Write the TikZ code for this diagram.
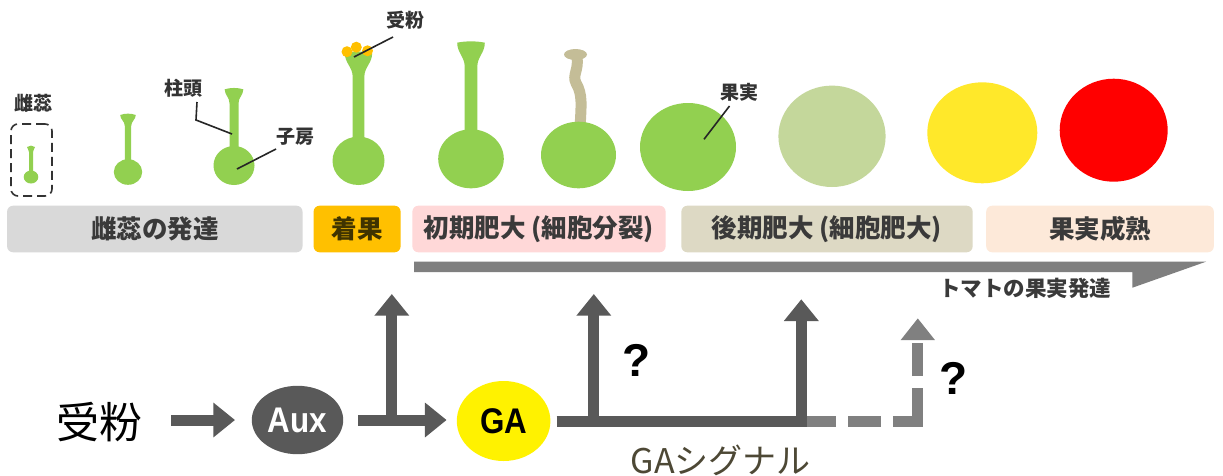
\documentclass[tikz,border=0pt]{standalone}
\usepackage{fontspec}
\setmainfont{Liberation Sans}
\newfontfamily\jp{Noto Sans CJK JP}
\usetikzlibrary{shapes.geometric,arrows.meta}

\definecolor{pgreen}{HTML}{92D050}
\definecolor{palegreen}{HTML}{C4D79B}
\definecolor{fyellow}{HTML}{FFE82A}
\definecolor{fred}{HTML}{FF0000}
\definecolor{pollen}{HTML}{FFC000}
\definecolor{witheredtan}{HTML}{C4BD97}
\definecolor{bargray}{HTML}{D9D9D9}
\definecolor{barorange}{HTML}{FFC000}
\definecolor{barpink}{HTML}{FFD8D8}
\definecolor{bartan}{HTML}{DDD9C4}
\definecolor{barpeach}{HTML}{FDE9D9}
\definecolor{progress}{HTML}{7F7F7F}
\definecolor{arrowdark}{HTML}{595959}
\definecolor{arrowlight}{HTML}{808080}
\definecolor{bartext}{HTML}{333333}
\definecolor{phasetext}{HTML}{3A3A3A}
\definecolor{settext}{HTML}{3F3300}
\definecolor{leadcol}{HTML}{262626}
\definecolor{sigtext}{HTML}{4D4835}

% pistil: #1 x, #2 stigma top, #3 stigma half width, #4 stigma height,
% #5 style half width, #6 ovary centre y, #7 ovary x radius, #8 ovary y radius
\newcommand\drawpistil[8]{%
  \fill[pgreen] ({#1-#3},{#2+1}) .. controls ({#1-#3*0.4},{#2-0.8}) and ({#1+#3*0.4},{#2-0.8}) .. ({#1+#3},{#2+1})
    .. controls ({#1+#3},{#2+#4*0.45}) and ({#1+#5},{#2+#4*0.6}) .. ({#1+#5},{#2+#4})
    -- ({#1+#5},{#6}) -- ({#1-#5},{#6}) -- ({#1-#5},{#2+#4})
    .. controls ({#1-#5},{#2+#4*0.6}) and ({#1-#3},{#2+#4*0.45}) .. cycle;
  \fill[pgreen] (#1,#6) ellipse [x radius=#7pt, y radius=#8pt];
}

\tikzset{
  lbl/.style={font=\jp\bfseries\fontsize{19}{22}\selectfont, text=bartext, inner sep=0pt},
  leader/.style={draw=leadcol, line width=1.6pt},
  phase/.style={rounded corners=6pt, minimum height=46.6pt, inner sep=0pt,
    font=\jp\bfseries\fontsize{25.5}{28}\selectfont, text=phasetext},
  bigarrow/.style={draw=arrowdark, line width=11pt, -{Triangle[length=21.7pt,width=33.5pt]}},
  sigline/.style={draw=arrowdark, line width=11pt},
  dashline/.style={draw=arrowlight, line width=11pt, dash pattern=on 32.5pt off 12.3pt, dash phase=3.5pt},
  dasharrow/.style={draw=arrowlight, line width=11pt, dash pattern=on 33pt off 12pt,
    -{Triangle[length=21.7pt,width=32.7pt]}},
  qmark/.style={font=\bfseries\fontsize{46}{50}\selectfont, inner sep=0pt},
  hormone/.style={ellipse, inner sep=0pt, font=\bfseries\fontsize{33}{36}\selectfont},
}

\begin{document}
\begin{tikzpicture}[x=1pt, y=-1pt]
\useasboundingbox[fill=white] (0,0) rectangle (1223,475);

% ---- pistil development ----
\node[draw=bartext, line width=1.6pt, dash pattern=on 9pt off 5pt, rounded corners=7pt,
  minimum width=41pt, minimum height=72pt, inner sep=0pt] (pbox) at (31.5,160) {};
\drawpistil{31}{146}{4}{6}{2}{177}{7.3}{6.5}
\drawpistil{128}{114}{7.8}{12}{3.2}{172}{14.2}{12.8}
\drawpistil{234}{88.3}{9.3}{15}{4.5}{165.5}{20.5}{19.5}

% pollinated pistil
\drawpistil{358.5}{52}{13.7}{25}{5.8}{160.8}{26}{24.2}
\fill[pollen] (347,51.7) circle [radius=5.5pt];
\fill[pollen] (356.3,47.2) circle [radius=5.5pt];
\fill[pollen] (367.5,50.8) circle [radius=5.5pt];

% fruit set and early growth
\drawpistil{471}{41.7}{13.8}{25}{6.3}{158.8}{32.8}{29.5}
\draw[witheredtan, line width=11pt] (580,130) .. controls (581,105) and (583,95) .. (576,83)
  .. controls (572,75) and (579,70) .. (577,57);
\fill[witheredtan] (575.5,54.5) ellipse [x radius=11.5pt, y radius=5.5pt];
\fill[pgreen] (578.5,155) ellipse [x radius=37.5pt, y radius=33.3pt];

% fruits
\fill[pgreen] (688,147) ellipse [x radius=48pt, y radius=44pt];
\fill[palegreen] (832,136.3) ellipse [x radius=53.6pt, y radius=50.7pt];
\fill[fyellow] (982.3,132.8) ellipse [x radius=55pt, y radius=50.5pt];
\fill[fred] (1113.7,130.2) ellipse [x radius=54pt, y radius=51.5pt];

% labels and leaders
\node[lbl] (lpistil) at (33,103) {雌蕊};
\node[lbl] (lstigma) at (183,88) {柱頭};
\node[lbl] (lovary) at (295,137) {子房};
\node[lbl] (lpoll) at (405,20) {受粉};
\node[lbl] (lfruit) at (739.5,92.5) {果実};
\coordinate (st0) at (197,102);
\coordinate (st1) at (196,120);
\coordinate (st2) at (232,134);
\draw[leader] (st0) -- (st1) -- (st2);
\coordinate (ov0) at (276,149);
\coordinate (ov1) at (237,169);
\draw[leader] (ov0) -- (ov1);
\coordinate (po0) at (393,37);
\coordinate (po1) at (354,57);
\draw[leader] (po0) -- (po1);
\coordinate (fr0) at (729.5,106);
\coordinate (fr1) at (704,139.3);
\draw[leader] (fr0) -- (fr1);

% ---- phases ----
\node[phase, fill=bargray, minimum width=295.4pt] (ph1) at (154.8,229) {雌蕊の発達};
\node[phase, fill=barorange, minimum width=87pt, text=settext] (ph2) at (357.1,229) {着果};
\node[phase, fill=barpink, minimum width=253.2pt] (ph3) at (539,229) {初期肥大 (細胞分裂)};
\node[phase, fill=bartan, minimum width=291.3pt] (ph4) at (827,229) {後期肥大 (細胞肥大)};
\node[phase, fill=barpeach, minimum width=227.6pt] (ph5) at (1100,229) {果実成熟};

\fill[progress] (414,261.7) -- (1206,261.7) -- (1132.4,287.7) -- (1132.4,272) -- (414,272) -- cycle;
\node[font=\jp\bfseries\fontsize{21.5}{24}\selectfont, text=phasetext, inner sep=0pt] (tomato) at (1025,288) {トマトの果実発達};

% ---- signalling ----
\node[font=\jp\fontsize{43}{48}\selectfont, inner sep=0pt] (trig) at (99.8,422) {受粉};
\node[hormone, fill=arrowdark, minimum width=91.4pt, minimum height=68.4pt, text=white] (aux) at (297.5,420)
  {\scalebox{0.95}[1.08]{Aux}};
\node[hormone, fill=yellow, minimum width=93.6pt, minimum height=80pt] (ga) at (503.6,421)
  {\scalebox{0.95}[1.08]{GA}};

\draw[bigarrow, shorten <=28pt, shorten >=16.6pt] (trig.east |- aux) -- (aux.west);
\draw[bigarrow, shorten <=14.7pt, shorten >=10pt] (aux.east) -- (aux.east -| ga.west);

\coordinate (up1) at (391.8,294);
\draw[bigarrow] (up1 |- aux) -- (up1);

\coordinate (sigend) at (806.8,421);
\coordinate (upA) at (593.8,294);
\coordinate (upB) at (801.3,299.3);
\draw[sigline] ([xshift=6pt]ga.east) -- (sigend);
\draw[bigarrow] (upA |- ga) -- (upA);
\draw[bigarrow] (upB |- ga) -- (upB);

\coordinate (dcorner) at (923.3,421);
\coordinate (dtip) at (917.8,318.3);
\draw[dashline] (sigend) -- (dcorner);
\draw[dasharrow] (dtip |- dcorner) -- (dtip);

\node[qmark] (q1) at (636.7,360) {?};
\node[qmark] (q2) at (953.3,378) {?};
\node[font=\jp\fontsize{34}{38}\selectfont, text=sigtext, inner sep=0pt] (gasig) at (720.8,460) {GAシグナル};
\end{tikzpicture}
\end{document}
